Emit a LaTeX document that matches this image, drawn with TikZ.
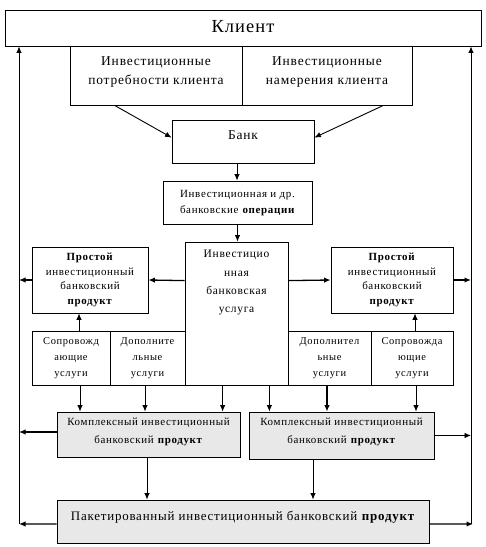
\documentclass[tikz,border=0pt]{standalone}
\usepackage{fontspec}
\setmainfont[LetterSpace=6]{Liberation Serif}
\usetikzlibrary{arrows.meta,calc}
\tikzset{
  box/.style={draw, line width=0.8bp, inner sep=0pt, anchor=center},
  gbox/.style={box, fill=black!9},
  txt/.style={inner sep=0pt, align=center},
  arr/.style={line width=0.9bp, -{Latex[length=6.5bp,width=5.5bp]}},
  barr/.style={line width=1.3bp, -{Latex[length=6.5bp,width=5.5bp]}},
  ln/.style={line width=0.8bp}
}
\begin{document}
\begin{tikzpicture}[x=1bp,y=-1bp]
\useasboundingbox (0,0) rectangle (486,547);
% boxes
\node[box, minimum width=476bp, minimum height=36bp] (client) at (243,28) {};
\node[txt, font=\fontsize{18.5}{20}\selectfont] (clientT) at (243,27) {Клиент};
\node[box, minimum width=172bp, minimum height=59bp] (needs) at (156,75.5) {};
\node[txt, font=\fontsize{13.5}{19}\selectfont] (needsT) at (156,72) {Инвестиционные\\потребности клиента};
\node[box, minimum width=170bp, minimum height=59bp] (intent) at (327,75.5) {};
\node[txt, font=\fontsize{13.5}{19}\selectfont] (intentT) at (327,72) {Инвестиционные\\намерения клиента};
\node[box, minimum width=142bp, minimum height=43bp] (bank) at (243,141.5) {};
\node[txt, font=\fontsize{13.5}{16}\selectfont] (bankT) at (243,135) {Банк};
\node[box, minimum width=149bp, minimum height=43bp] (ops) at (237.5,202.5) {};
\node[txt, font=\fontsize{11}{16}\selectfont] (opsT) at (237.5,203) {Инвестиционная и др.\\банковские \textbf{операции}};
\node[box, minimum width=103bp, minimum height=143bp] (serv) at (236.5,313.5) {};
\node[txt, font=\fontsize{11.5}{18.5}\selectfont, anchor=north] (servT) at (236.5,250) {Инвестицио\\нная\\банковская\\услуга};
\node[box, minimum width=116bp, minimum height=66bp] (simL) at (90,280) {};
\node[txt, font=\fontsize{11}{14.5}\selectfont] (simLT) at (90,280) {\textbf{Простой}\\инвестиционный\\банковский\\\textbf{продукт}};
\node[box, minimum width=122bp, minimum height=66bp] (simR) at (392,280) {};
\node[txt, font=\fontsize{11}{14.5}\selectfont] (simRT) at (392,280) {\textbf{Простой}\\инвестиционный\\банковский\\\textbf{продукт}};
\node[box, minimum width=78bp, minimum height=54bp] (sopL) at (71,358) {};
\node[txt, font=\fontsize{10.5}{16}\selectfont] (sopLT) at (71,358) {Сопровожд\\ающие\\услуги};
\node[box, minimum width=75bp, minimum height=54bp] (dopL) at (147.5,358) {};
\node[txt, font=\fontsize{10.5}{16}\selectfont] (dopLT) at (147.5,358) {Дополните\\льные\\услуги};
\node[box, minimum width=83bp, minimum height=54bp] (dopR) at (329.5,358) {};
\node[txt, font=\fontsize{10.5}{16}\selectfont] (dopRT) at (329.5,358) {Дополнител\\ьные\\услуги};
\node[box, minimum width=82bp, minimum height=54bp] (sopR) at (412,358) {};
\node[txt, font=\fontsize{10.5}{16}\selectfont] (sopRT) at (412,358) {Сопровожда\\ющие\\услуги};
\node[gbox, minimum width=183bp, minimum height=45bp] (cxL) at (148.5,434.5) {};
\node[txt, font=\fontsize{11}{18}\selectfont] (cxLT) at (148.5,432) {Комплексный инвестиционный\\банковский \textbf{продукт}};
\node[gbox, minimum width=185bp, minimum height=47bp] (cxR) at (341.5,435.5) {};
\node[txt, font=\fontsize{11}{18}\selectfont] (cxRT) at (341.5,432) {Комплексный инвестиционный\\банковский \textbf{продукт}};
\node[gbox, minimum width=372bp, minimum height=43bp] (pack) at (243,521.5) {};
\node[txt, font=\fontsize{13}{16}\selectfont] (packT) at (243,517) {Пакетированный инвестиционный банковский \textbf{продукт}};
% side lines
\coordinate (lb) at (19,524);
\coordinate (rb) at (471,524);
\coordinate (cxLw) at ([yshift=2.5bp]cxL.west);
\draw[arr] (lb) -- (lb |- client.south);
\draw[arr] (rb) -- (rb |- client.south);
% top arrows
\draw[arr] ([xshift=45bp]needs.south west) -- ([yshift=-18bp]bank.north west);
\draw[arr] ([xshift=-29bp]intent.south east) -- ([yshift=-18bp]bank.north east);
\draw[arr] ([xshift=-6bp]bank.south) -- ([xshift=-6bp]bank.south |- ops.north);
\draw[arr] (ops.south) -- (ops.south |- serv.north);
% service to simple
\draw[barr] ([yshift=-39bp]serv.north west) -- (simL.east);
\draw[barr] ([yshift=-39bp]serv.north east) -- (simR.west);
\draw[barr] (simL.west) -- (lb |- simL.west);
\draw[barr] (simR.east) -- (rb |- simR.east);
% support to simple
\draw[arr] ([xshift=8bp]sopL.north) -- ([xshift=8bp]sopL.north |- simL.south);
\draw[arr] ([xshift=3bp]sopR.north) -- ([xshift=3bp]sopR.north |- simR.south);
% down to complex
\draw[arr] ([xshift=9bp]sopL.south) -- ([xshift=9bp]sopL.south |- cxL.north);
\draw[arr] ([xshift=-2.5bp]dopL.south) -- ([xshift=-2.5bp]dopL.south |- cxL.north);
\draw[arr] ([xshift=38bp]serv.south west) -- ([xshift=38bp]serv.south west |- cxL.north);
\draw[arr] ([xshift=-19bp]serv.south east) -- ([xshift=-19bp]serv.south east |- cxR.north);
\draw[barr] ([xshift=-2.5bp]dopR.south) -- ([xshift=-2.5bp]dopR.south |- cxR.north);
\draw[arr] ([xshift=4bp]sopR.south) -- ([xshift=4bp]sopR.south |- cxR.north);
% complex to sides
\draw[barr] (cxLw) -- (lb |- cxLw);
\draw[arr] (cxR.east) -- (rb |- cxR.east);
% complex to package
\draw[arr] ([xshift=-1.5bp]cxL.south) -- ([xshift=-1.5bp]cxL.south |- pack.north);
\draw[arr] ([xshift=-28.5bp]cxR.south) -- ([xshift=-28.5bp]cxR.south |- pack.north);
% package to sides
\draw[barr] ([yshift=-2.5bp]pack.west) -- (lb);
\draw[barr] ([yshift=-2.5bp]pack.east) -- ([xshift=2bp]rb);
\end{tikzpicture}
\end{document}
